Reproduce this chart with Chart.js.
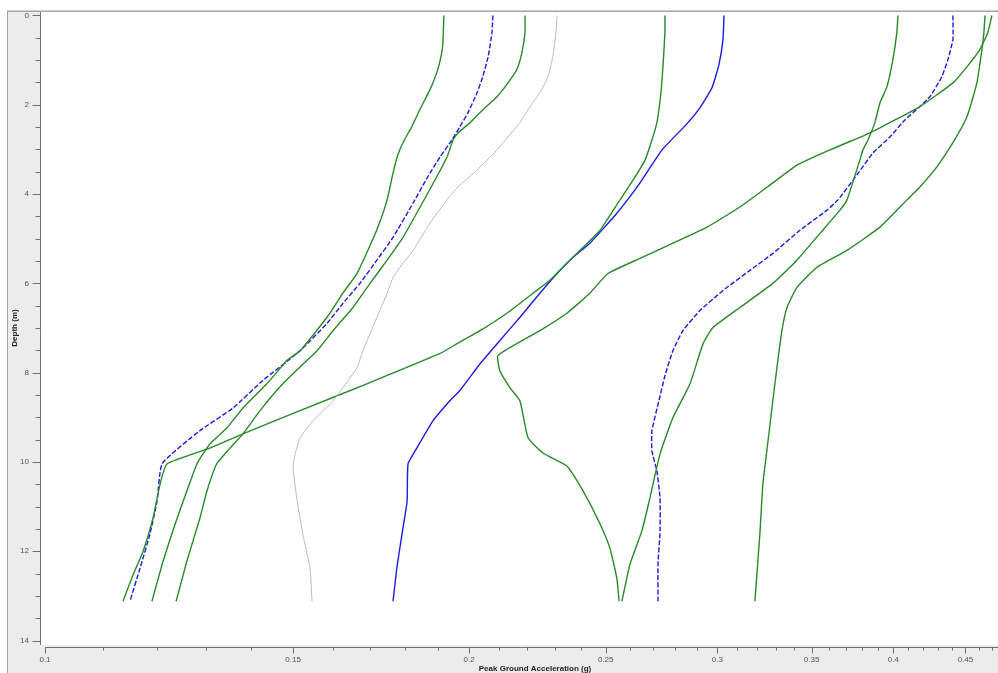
<!DOCTYPE html>
<html>
<head>
<meta charset="utf-8">
<script src="https://cdn.jsdelivr.net/npm/chart.js@4.4.1/dist/chart.umd.min.js"></script>
<style>
  html, body { margin: 0; padding: 0; background: #fff; }
  #wrap { width: 998px; height: 673px; }
</style>
</head>
<body>
<div id="wrap"><canvas id="pga" width="998" height="673"></canvas></div>
<script>
// tick labels
const xMajorTicks = [0.1, 0.15, 0.2, 0.25, 0.3, 0.35, 0.4, 0.45];
const xTickLabels = ['0.1', '0.15', '0.2', '0.25', '0.3', '0.35', '0.4', '0.45'];
const yMajorTicks = [0, 2, 4, 6, 8, 10, 12, 14];
const yTickLabels = ['0', '2', '4', '6', '8', '10', '12', '14'];

// profiles: depth (m) and peak ground acceleration (g)
const depthG1 = [0, 0.61, 0.92, 1.28, 1.66, 2.11, 2.49, 2.85, 3.12, 3.53, 4.13, 4.74, 5.26, 5.78, 6.22, 6.67, 7.10, 7.51, 7.73, 8.25, 8.79, 9.24, 9.60, 10.04, 10.65, 11.26, 12.22, 13.12];
const pgaG1   = [0.1919, 0.1916, 0.1910, 0.1897, 0.1876, 0.1845, 0.1821, 0.1795, 0.1780, 0.1766, 0.1749, 0.1723, 0.1695, 0.1665, 0.1627, 0.1593, 0.1555, 0.1517, 0.1485, 0.1437, 0.1382, 0.1346, 0.1309, 0.1282, 0.1261, 0.1241, 0.1213, 0.1191];

const depthB1 = [0, 0.38, 0.92, 1.37, 1.73, 2.18, 2.49, 2.79, 3.17, 3.64, 4.20, 4.97, 5.48, 6.00, 6.45, 6.90, 7.51, 8.18, 8.79, 9.30, 10.04, 10.88, 11.62, 12.38, 13.12];
const pgaB1   = [0.2079, 0.2076, 0.2063, 0.2045, 0.2026, 0.1996, 0.1970, 0.1944, 0.1907, 0.1867, 0.1825, 0.1766, 0.1720, 0.1673, 0.1627, 0.1585, 0.1517, 0.1427, 0.1360, 0.1288, 0.1211, 0.1201, 0.1187, 0.1168, 0.1149];

const depthG2 = [0, 0.38, 0.83, 1.21, 1.51, 1.82, 2.11, 2.40, 2.63, 2.79, 3.17, 3.69, 4.25, 4.97, 5.48, 6.00, 6.54, 7.06, 7.51, 7.73, 8.25, 8.85, 9.37, 9.69, 10.04, 10.65, 11.26, 12.22, 13.12];
const pgaG2   = [0.2191, 0.2191, 0.2180, 0.2162, 0.2131, 0.2093, 0.2045, 0.2003, 0.1964, 0.1948, 0.1929, 0.1891, 0.1849, 0.1795, 0.1749, 0.1701, 0.1654, 0.1601, 0.1560, 0.1534, 0.1475, 0.1421, 0.1382, 0.1353, 0.1324, 0.1303, 0.1288, 0.1261, 0.1239];

const depthMean = [0, 0.38, 0.92, 1.37, 1.73, 2.04, 2.40, 2.72, 3.06, 3.46, 3.84, 4.13, 4.65, 5.26, 5.64, 5.87, 6.22, 6.76, 7.51, 7.89, 8.63, 9.08, 9.46, 9.82, 10.13, 10.88, 11.62, 12.38, 13.12];
const pgaMean   = [0.2309, 0.2305, 0.2293, 0.2275, 0.2245, 0.2209, 0.2173, 0.2131, 0.2086, 0.2026, 0.1964, 0.1929, 0.1876, 0.1825, 0.1786, 0.1766, 0.1749, 0.1720, 0.1681, 0.1665, 0.1601, 0.1549, 0.1517, 0.1505, 0.1500, 0.1510, 0.1524, 0.1542, 0.1547];

const depthG3 = [0, 0.38, 1.15, 1.73, 2.40, 2.79, 3.24, 3.69, 4.13, 4.81, 5.26, 5.64, 5.93, 6.22, 6.67, 7.06, 7.35, 7.57, 8.25, 8.85, 9.37, 9.69, 10.04, 10.49, 11.26, 12.00, 12.52, 13.12];
const pgaG3   = [0.2754, 0.2754, 0.2745, 0.2736, 0.2718, 0.2696, 0.2666, 0.2614, 0.2559, 0.2477, 0.2397, 0.2331, 0.2282, 0.2220, 0.2127, 0.2036, 0.1961, 0.1907, 0.1692, 0.1517, 0.1382, 0.1309, 0.1221, 0.1207, 0.1193, 0.1174, 0.1155, 0.1136];

const depthB2 = [0, 0.54, 1.10, 1.62, 2.07, 2.45, 3.01, 3.75, 4.43, 5.10, 5.42, 5.78, 6.22, 6.76, 7.28, 7.80, 8.40, 8.63, 9.08, 9.69, 10.04, 10.88, 11.62, 12.38, 13.12];
const pgaB2   = [0.3033, 0.3028, 0.3008, 0.2974, 0.2916, 0.2850, 0.2741, 0.2644, 0.2546, 0.2436, 0.2369, 0.2309, 0.2245, 0.2173, 0.2103, 0.2036, 0.1970, 0.1938, 0.1885, 0.1836, 0.1810, 0.1807, 0.1792, 0.1777, 0.1766];

const depthG4 = [0, 0.38, 0.76, 1.15, 1.51, 2.04, 2.63, 3.01, 3.35, 3.75, 4.29, 4.74, 5.10, 5.44, 5.78, 6.22, 6.67, 7.06, 7.35, 7.62, 7.96, 8.34, 8.63, 9.46, 9.80, 10.09, 10.65, 11.39, 11.93, 12.61, 13.12];
const pgaG4   = [0.4699, 0.4668, 0.4608, 0.4511, 0.4409, 0.4177, 0.3850, 0.3606, 0.3417, 0.3285, 0.3113, 0.2950, 0.2790, 0.2644, 0.2509, 0.2436, 0.2346, 0.2245, 0.2162, 0.2096, 0.2103, 0.2138, 0.2173, 0.2202, 0.2256, 0.2346, 0.2409, 0.2477, 0.2517, 0.2546, 0.2555];

const depthG5 = [0, 0.38, 0.99, 1.60, 1.96, 2.40, 2.79, 3.01, 3.24, 4.13, 4.36, 4.88, 5.48, 6.00, 6.54, 6.99, 7.35, 8.25, 9.01, 9.82, 10.81, 11.55, 12.29, 13.12];
const pgaG5   = [0.4030, 0.4023, 0.3997, 0.3958, 0.3913, 0.3881, 0.3837, 0.3806, 0.3787, 0.3708, 0.3666, 0.3548, 0.3417, 0.3285, 0.3113, 0.2979, 0.2931, 0.2869, 0.2790, 0.2732, 0.2687, 0.2652, 0.2601, 0.2567];

const depthB3 = [0, 0.54, 0.99, 1.37, 1.82, 2.04, 2.34, 2.72, 3.08, 3.57, 4.13, 4.36, 4.81, 5.33, 5.71, 6.16, 6.61, 7.06, 7.51, 8.07, 8.63, 9.30, 9.75, 10.20, 10.81, 11.55, 12.29, 13.12];
const pgaB3   = [0.4409, 0.4409, 0.4373, 0.4330, 0.4246, 0.4177, 0.4076, 0.3978, 0.3869, 0.3769, 0.3654, 0.3589, 0.3434, 0.3285, 0.3164, 0.3028, 0.2916, 0.2836, 0.2790, 0.2754, 0.2727, 0.2696, 0.2696, 0.2718, 0.2732, 0.2732, 0.2723, 0.2723];

const depthG6 = [0, 0.38, 0.76, 1.51, 2.27, 2.85, 3.39, 3.84, 4.13, 4.74, 5.26, 5.64, 6.09, 6.54, 7.06, 7.89, 8.63, 9.75, 10.49, 11.62, 13.12];
const pgaG6   = [0.4646, 0.4638, 0.4623, 0.4585, 0.4511, 0.4409, 0.4295, 0.4177, 0.4090, 0.3913, 0.3708, 0.3531, 0.3417, 0.3362, 0.3334, 0.3307, 0.3285, 0.3253, 0.3232, 0.3216, 0.3190];

const GREEN = '#2a8a2a';
const BLUE  = '#1c1ce0';
const GREY  = '#bdbdbd';

const series = [
  { depth: depthMean, pga: pgaMean, color: GREY,  width: 1,   dash: [] },
  { depth: depthG1,   pga: pgaG1,   color: GREEN, width: 1.4, dash: [] },
  { depth: depthG2,   pga: pgaG2,   color: GREEN, width: 1.4, dash: [] },
  { depth: depthG3,   pga: pgaG3,   color: GREEN, width: 1.4, dash: [] },
  { depth: depthG4,   pga: pgaG4,   color: GREEN, width: 1.4, dash: [] },
  { depth: depthG5,   pga: pgaG5,   color: GREEN, width: 1.4, dash: [] },
  { depth: depthG6,   pga: pgaG6,   color: GREEN, width: 1.4, dash: [] },
  { depth: depthB2,   pga: pgaB2,   color: BLUE,  width: 1.4, dash: [] },
  { depth: depthB1,   pga: pgaB1,   color: BLUE,  width: 1.4, dash: [5, 2] },
  { depth: depthB3,   pga: pgaB3,   color: BLUE,  width: 1.4, dash: [5, 2] }
];

// frame, minor ticks and axis titles drawn around the scales
const framePlugin = {
  id: 'frame',
  beforeDraw(chart) {
    const { ctx, chartArea: a, width, height } = chart;
    ctx.save();
    ctx.fillStyle = '#ffffff';
    ctx.fillRect(0, 0, width, height);
    ctx.fillStyle = '#ececec';
    ctx.fillRect(7, 11, width - 7, height - 11);
    ctx.fillStyle = '#ffffff';
    ctx.fillRect(a.left, a.top, a.right - a.left, a.bottom - a.top);
    ctx.strokeStyle = '#a4a4a4';
    ctx.lineWidth = 1;
    ctx.beginPath();
    ctx.moveTo(7.5, 11); ctx.lineTo(7.5, height);
    ctx.stroke();
    ctx.lineWidth = 1.5;
    ctx.beginPath();
    ctx.moveTo(7, 11.25); ctx.lineTo(width, 11.25);
    ctx.stroke();
    ctx.restore();
  },
  afterDraw(chart) {
    const { ctx, chartArea: a, width } = chart;
    const xs = chart.scales.x, ys = chart.scales.y;
    ctx.save();
    ctx.strokeStyle = '#707070';
    ctx.lineWidth = 1;

    // y axis line + ticks
    const ax = a.left - 0.5;
    ctx.beginPath();
    ctx.moveTo(ax, a.top); ctx.lineTo(ax, a.bottom);
    for (let d = 0; d <= 14; d += 0.5) {
      const py = Math.round(ys.getPixelForValue(d)) + 0.5;
      const len = (d % 2 === 0) ? 8 : 5;
      ctx.moveTo(ax - len, py); ctx.lineTo(ax, py);
    }
    ctx.stroke();

    // x axis line + ticks
    const ay = a.bottom + 2.5;
    const x0 = xs.getPixelForValue(0.1);
    ctx.beginPath();
    ctx.moveTo(x0, ay); ctx.lineTo(width, ay);
    for (let k = 10; k <= 47; k++) {
      const px = Math.round(xs.getPixelForValue(k / 100)) + 0.5;
      const len = (k % 5 === 0) ? 6 : 3;
      ctx.moveTo(px, ay); ctx.lineTo(px, ay + len);
    }
    ctx.stroke();

    // axis titles
    ctx.fillStyle = '#222';
    ctx.font = 'bold 8px "Liberation Sans", Arial, sans-serif';
    ctx.textAlign = 'center';
    ctx.textBaseline = 'middle';
    ctx.fillText('Peak Ground Acceleration (g)', 535, 669);
    ctx.translate(15, 328);
    ctx.rotate(-Math.PI / 2);
    ctx.fillText('Depth (m)', 0, 0);
    ctx.restore();
  }
};

const tickFont = { family: '"Liberation Sans", Arial, sans-serif', size: 8 };

new Chart(document.getElementById('pga'), {
  type: 'scatter',
  data: {
    datasets: series.map(s => ({
      data: s.depth.map((d, i) => ({ x: s.pga[i], y: d })),
      showLine: true,
      borderColor: s.color,
      borderWidth: s.width,
      borderDash: s.dash,
      pointRadius: 0,
      tension: 0.15,
      fill: false
    }))
  },
  options: {
    responsive: false,
    animation: false,
    layout: { padding: { top: 12, left: 0, right: 0, bottom: 0 } },
    plugins: { legend: { display: false }, tooltip: { enabled: false } },
    scales: {
      x: {
        type: 'logarithmic',
        position: 'bottom',
        min: 0.09935,
        max: 0.4746,
        grid: { display: false, drawTicks: true, tickLength: 8 },
        border: { display: false },
        afterBuildTicks: s => { s.ticks = xMajorTicks.map(v => ({ value: v })); },
        afterFit: s => { s.height = 28; },
        ticks: {
          autoSkip: false, maxRotation: 0, padding: 2,
          font: tickFont, color: '#555',
          callback: (v, i) => xTickLabels[i]
        }
      },
      y: {
        type: 'linear',
        reverse: true,
        min: -0.078,
        max: 14.1,
        grid: { display: false, drawTicks: true, tickLength: 9 },
        border: { display: false },
        afterBuildTicks: s => { s.ticks = yMajorTicks.map(v => ({ value: v })); },
        afterFit: s => { s.width = 41; },
        ticks: {
          autoSkip: false, padding: 3,
          font: tickFont, color: '#555',
          callback: (v, i) => yTickLabels[i]
        }
      }
    }
  },
  plugins: [framePlugin]
});
</script>
</body>
</html>
